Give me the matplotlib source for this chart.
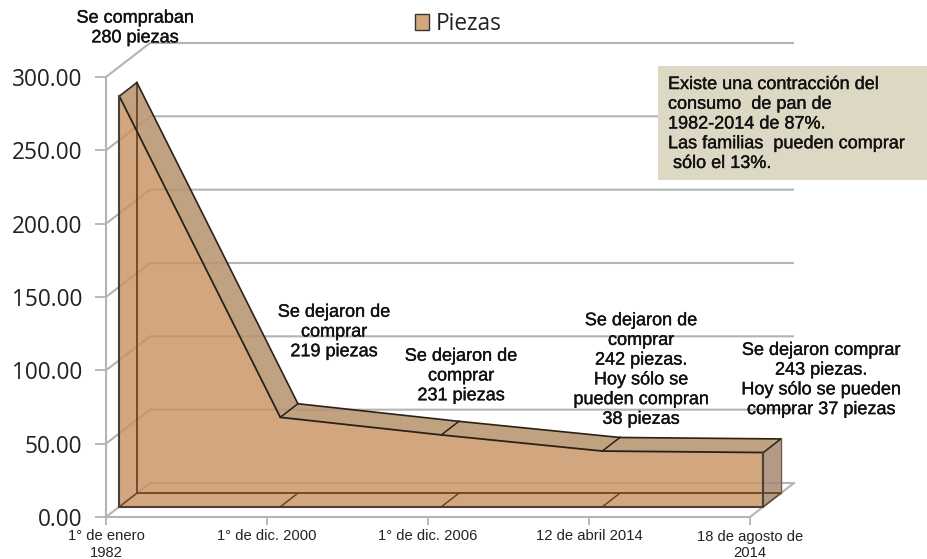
import matplotlib
matplotlib.use("Agg")
import matplotlib.pyplot as plt
from matplotlib.patches import Polygon, Patch, Rectangle
import matplotlib.patheffects as pe
import numpy as np

W, H = 928, 559
categories = ["1° de enero\n1982", "1° de dic. 2000", "1° de dic. 2006", "12 de abril 2014", "18 de agosto de\n2014"]
values = [280, 61, 49, 38, 37]
y_ticks = [0, 50, 100, 150, 200, 250, 300]
series_name = "Piezas"
notes = [
    ("Se compraban\n280 piezas", 135, 28),
    ("Se dejaron de\ncomprar\n219 piezas", 334, 332),
    ("Se dejaron de\ncomprar\n231 piezas", 461, 376),
    ("Se dejaron de\ncomprar\n242 piezas.\nHoy sólo se\npueden compran\n38 piezas", 641, 370),
    ("Se dejaron comprar\n243 piezas.\nHoy sólo se pueden\ncomprar 37 piezas", 821, 380),
]
box_text = "Existe una contracción del\nconsumo  de pan de\n1982-2014 de 87%.\nLas familias  pueden comprar\n sólo el 13%."

FACE = "#C79160"
EDGE = "#2b2118"
GRID = "#b4b4b4"
TEXT = "#111111"

fig = plt.figure(figsize=(W / 100, H / 100), dpi=100, facecolor="white")
ax = fig.add_axes([106 / W, 1 - 517 / H, (750 - 106) / W, (517 - 77) / H])
ax.set_xlim(0, 4)
ax.set_ylim(0, 300)
ax.patch.set_alpha(0)

# oblique projection: depth 0 = front of the floor, depth 1 = back wall
DX = 44 / 161.0
DY = 34 / (440 / 300.0)
INSET = 13.3 / 161.0 - 0.3 * DX  # small shift of the area from the axis ticks


def proj(x, v, depth):
    depth = np.asarray(depth, float)
    return np.asarray(x, float) + DX * depth, np.asarray(v, float) + DY * depth


x = np.arange(len(values), dtype=float)
xa = x + INSET
v = np.array(values, float)
front, back = 0.3, 0.7

# walls and floor
for t in y_ticks:
    px, py = proj([0, 0, 4], [t, t, t], [0, 1, 1])
    ax.plot(px, py, color=GRID, lw=1.5, clip_on=False, zorder=1, solid_capstyle="butt")
px, py = proj([4, 4], [0, 0], [0, 1])
ax.plot(px, py, color=GRID, lw=1.5, clip_on=False, zorder=1)


def poly(xs, ys, depth, **kw):
    px, py = proj(xs, ys, depth)
    p = Polygon(np.column_stack([px, py]), closed=True, clip_on=False, **kw)
    ax.add_patch(p)
    return p


# back edges
px, py = proj([xa[0], xa[0], xa[-1]], [v[0], 0, 0], back)
ax.plot(px, py, color="#6b4522", lw=1.3, clip_on=False, zorder=5)

# top strips
for i in range(len(v) - 1):
    poly([xa[i], xa[i + 1], xa[i + 1], xa[i]], [v[i], v[i + 1], v[i + 1], v[i]],
         [front, front, back, back], facecolor="#B8946F", alpha=0.88, edgecolor="none", zorder=3)
    px, py = proj([xa[i], xa[i + 1]], [v[i], v[i + 1]], back)
    ax.plot(px, py, color=EDGE, lw=1.2, clip_on=False, zorder=6)
for i in range(len(v)):
    px, py = proj([xa[i], xa[i]], [v[i], v[i]], [front, back])
    ax.plot(px, py, color=EDGE, lw=1.1, clip_on=False, zorder=6)

# right end face
poly([xa[-1], xa[-1], xa[-1], xa[-1]], [v[-1], 0, 0, v[-1]], [front, front, back, back],
     facecolor="#A58872", alpha=0.85, edgecolor="none", zorder=3)
px, py = proj([xa[-1], xa[-1]], [v[-1], 0], back)
ax.plot(px, py, color="#6e5b47", lw=1.0, clip_on=False, zorder=6)

# front face
poly(np.r_[xa, xa[-1], xa[0]], np.r_[v, 0, 0], np.full(len(v) + 2, front),
     facecolor=FACE, alpha=0.8, edgecolor="none", zorder=4)
px, py = proj(xa, v, np.full(len(v), front))
ax.plot(px, py, color=EDGE, lw=1.3, clip_on=False, zorder=7)
px, py = proj([xa[0], xa[0], xa[-1], xa[-1]], [v[0], 0, 0, v[-1]], np.full(4, front))
ax.plot(px, py, color="#4a4038", lw=1.5, clip_on=False, zorder=7)

# floor divisions
for i in range(len(v)):
    px, py = proj([xa[i], xa[i]], [0, 0], [front, back])
    ax.plot(px, py, color="#6b4522", lw=1.1, clip_on=False, zorder=6)

# axes
for s in ("top", "right"):
    ax.spines[s].set_visible(False)
for s in ("left", "bottom"):
    ax.spines[s].set_color(GRID)
    ax.spines[s].set_linewidth(1.5)
    ax.spines[s].set_zorder(1)
ax.set_yticks(y_ticks)
ax.set_yticklabels([f"{t:.2f}" for t in y_ticks], family="Open Sans", fontsize=16.3, color="#222222")
ax.set_xticks(x)
ax.set_xticklabels(categories, family="Liberation Sans", fontsize=10.6, color="#222222", linespacing=1.27)
ax.tick_params(axis="y", length=8, width=1.3, color=GRID, pad=9)
ax.tick_params(axis="x", length=6, width=1.3, color=GRID, pad=3)

# legend
leg = fig.legend(handles=[Patch(facecolor="#D2A780", edgecolor="#333333", lw=1.0, label=series_name)],
                 loc="center", bbox_to_anchor=(458 / W, 1 - 24 / H), frameon=False,
                 prop={"family": "Open Sans", "size": 16.3}, handlelength=0.66, handleheight=0.66,
                 handletextpad=0.27, labelcolor="#222222")


def figxy(xp, yp):
    return xp / W, 1 - yp / H


stroke = [pe.withStroke(linewidth=0.25, foreground=TEXT)]
for txt, xp, yp in notes:
    fx, fy = figxy(xp, yp)
    fig.text(fx, fy, txt, ha="center", va="center", family="Liberation Sans", fontsize=13,
             color=TEXT, linespacing=1.21, zorder=20, path_effects=stroke)

fig.add_artist(Rectangle((658 / W, 1 - 180 / H), (W - 658) / W, 114 / H, transform=fig.transFigure,
                         facecolor="#DDD8C3", edgecolor="none", zorder=15))
fx, fy = figxy(668, 124)
fig.text(fx, fy, box_text, ha="left", va="center", family="Liberation Sans", fontsize=13,
         color=TEXT, linespacing=1.21, zorder=20, path_effects=stroke)

fig.savefig("out.png", dpi=100)
